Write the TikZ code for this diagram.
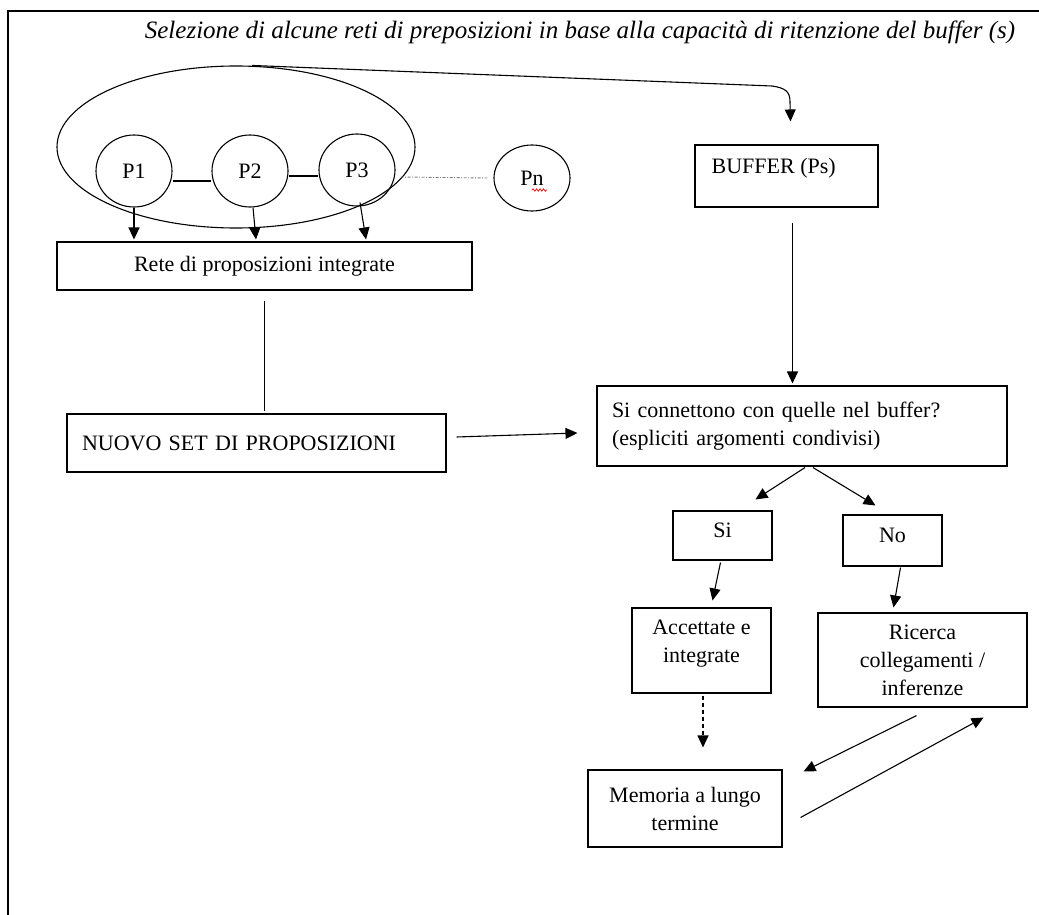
\documentclass[tikz,border=0pt]{standalone}
\usepackage{fontspec}
\setmainfont{Liberation Serif}
\usetikzlibrary{arrows.meta,shapes.geometric,calc,decorations.pathmorphing}
\begin{document}
\begin{tikzpicture}[x=1pt,y=-1pt,
  box/.style={draw, line width=1.1pt, rectangle, inner sep=0pt,
    font=\fontsize{22}{28}\selectfont, align=center},
  leftbox/.style={box, align=left, inner xsep=15pt},
  prop/.style={draw, ellipse, line width=1.1pt, minimum width=76pt,
    minimum height=72pt, inner sep=0pt, font=\fontsize{22}{26}\selectfont},
  arr/.style={line width=1.1pt, -{Triangle[length=12pt,width=11pt]}},
  link/.style={line width=1.1pt},
  lbl/.style={font=\fontsize{22}{28}\selectfont, inner sep=0pt, anchor=west}]
\useasboundingbox (0,0) rectangle (1039,915);

% page frame
\draw[line width=2pt] (8,915) -- (8,11) -- (1039,11);

% heading
\node[font=\itshape\fontsize{25}{28}\selectfont, inner sep=0pt] (title) at (580,32)
  {Selezione di alcune reti di preposizioni in base alla capacità di ritenzione del buffer (s)};

% group of propositions
\node[draw, ellipse, line width=1.1pt, minimum width=358pt, minimum height=162pt] (group) at (236,147) {};
\node[prop] (P1) at (134,171) {P1};
\node[prop] (P2) at (250,171) {P2};
\node[prop] (P3) at (357,170) {P3};
\node[prop, minimum height=66pt] (Pn) at (532,178) {Pn};
\draw[red, line width=0.7pt, decorate, decoration={snake, amplitude=1.2pt, segment length=3.5pt}]
  ($(Pn.center)+(0,12)$) -- ++(15,0);

\draw[link] ($(P1.east)+(0,10)$) -- ($(P2.west)+(0,10)$);
\draw[link] ($(P2.east)+(0,5)$) -- ($(P3.west)+(0,6)$);
\draw[line width=0.9pt, gray, dash pattern=on 3pt off 1.5pt on 1pt off 1.5pt] ($(P3.east)+(5,7)$) -- ($(Pn.west)+(-6,0)$);

% boxes
\node[box, minimum width=415pt, minimum height=48pt] (rete) at (264.5,266) {Rete di proposizioni integrate};
\node[leftbox, text width=349pt, minimum height=58pt] (nuovo) at (256.5,443) {NUOVO SET DI PROPOSIZIONI};
\node[box, minimum width=183pt, minimum height=62pt] (buffer) at (786.5,176) {};
\node[lbl] (buffertext) at ($(buffer.west)+(17,-8)$) {BUFFER (Ps)};
\node[leftbox, text width=380pt, minimum height=80pt] (query) at (802,426)
  {Si connettono con quelle nel buffer?\\(espliciti argomenti condivisi)};
\node[box, text depth=11pt, minimum width=99pt, minimum height=49pt] (si) at (722.5,535.5) {Si};
\node[box, text depth=11pt, minimum width=99pt, minimum height=51pt] (no) at (892.5,540.5) {No};
\node[box, text depth=19pt, minimum width=139pt, minimum height=85pt] (acc) at (701.5,650.5) {Accettate e\\integrate};
\node[box, minimum width=209pt, minimum height=94pt] (ric) at (922.5,660) {Ricerca\\collegamenti /\\inferenze};
\node[box, minimum width=194pt, minimum height=77pt] (mem) at (685,808.5) {Memoria a lungo\\termine};

% connectors
\coordinate (bufin) at ($(buffer.north)+(4,-23)$);
\draw[arr] ($(group.north)+(16,0)$) -- (772,86) .. controls (786,88) and (790,92) .. (790,102) -- (bufin);

\draw[arr] (P1.south) -- ($(P1.south |- rete.north)+(0,-2)$);
\draw[arr] ($(P2.south)+(3,0)$) -- ($(P2.south |- rete.north)+(6,-2)$);
\draw[arr] ($(P3.south)+(3,-4)$) -- ($(P3.south |- rete.north)+(9,-2)$);

\draw[link] ($(rete.south)+(0,10)$) -- ($(rete.south |- nuovo.north)+(0,-2)$);
\draw[arr] ($(nuovo.east)+(10,-6)$) -- ($(query.west)+(-19,7)$);
\draw[arr] ($(buffer.south)+(6,15)$) -- ($(buffer.south |- query.north)+(6,-2)$);

\draw[arr] ($(query.south)+(3,1)$) -- ($(si.north)+(33,-11)$);
\draw[arr] ($(query.south)+(11,1)$) -- ($(no.north)+(-17,-9)$);
\draw[arr] ($(si.south)+(-2,2)$) -- ($(acc.north)+(11,-7)$);
\draw[arr] ($(no.south)+(8,1)$) -- ($(ric.north)+(-29,-5)$);
\draw[arr, dash pattern=on 4pt off 3pt] ($(acc.south)+(1.5,2)$) -- ($(acc.south |- mem.north)+(1.5,-22)$);
\draw[arr] ($(ric.south)+(-6,8)$) -- ($(mem.north east)+(21,2)$);
\draw[arr] ($(mem.east)+(18,9)$) -- ($(ric.south east)+(-44,10)$);
\end{tikzpicture}
\end{document}
